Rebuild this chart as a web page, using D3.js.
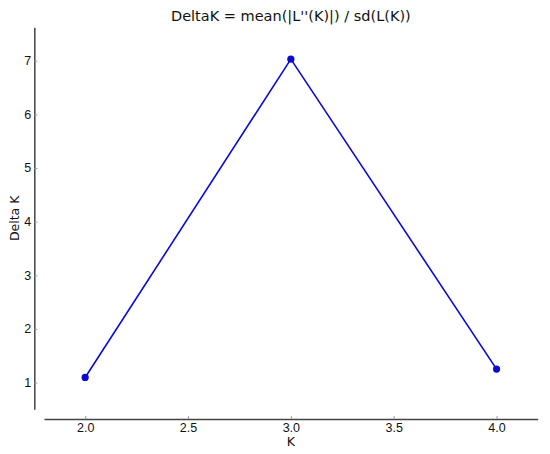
<!DOCTYPE html>
<html>
<head>
<meta charset="utf-8">
<script src="https://d3js.org/d3.v7.min.js"></script>
<style>
	body { margin: 0; background: #fff; }
	svg { display: block; font-family: "DejaVu Sans", sans-serif; }
</style>
</head>
<body>
<svg width="550" height="454"></svg>
<script>
var kValues = [2, 3, 4];
var deltaK = [1.094, 7.03, 1.25];
var xTicks = [2.0, 2.5, 3.0, 3.5, 4.0];
var yTicks = [1, 2, 3, 4, 5, 6, 7];

var svg = d3.select("svg");
var color = "#0a0ad2";

// plot box, spines are offset outward like the original
var plotLeft = 44, plotRight = 537.7, plotTop = 27.3, plotBottom = 409.3;
var ySpineX = 34.3, xSpineY = 419;

// matplotlib style 10% margins around the data
var xPad = (d3.max(kValues) - d3.min(kValues)) * 0.1;
var yPad = (d3.max(deltaK) - d3.min(deltaK)) * 0.1;

var x = d3.scaleLinear()
	.domain([d3.min(kValues) - xPad, d3.max(kValues) + xPad])
	.range([plotLeft, plotRight]);

var y = d3.scaleLinear()
	.domain([d3.min(deltaK) - yPad, d3.max(deltaK) + yPad])
	.range([plotBottom, plotTop]);

var points = kValues.map(function (k, i) { return {k: k, v: deltaK[i]}; });

// x axis
var xAxis = svg.append("g")
	.attr("transform", "translate(0," + xSpineY + ")")
	.call(d3.axisBottom(x).tickValues(xTicks).tickFormat(d3.format(".1f")).tickSizeInner(-3).tickSizeOuter(0).tickPadding(4));

xAxis.select(".domain").attr("stroke", "#444").attr("stroke-width", 1.5);
xAxis.selectAll(".tick line").attr("stroke", "#999");
xAxis.selectAll(".tick text").attr("font-size", 12.5).attr("fill", "#111");

// y axis
var yAxis = svg.append("g")
	.attr("transform", "translate(" + ySpineX + ",0)")
	.call(d3.axisLeft(y).tickValues(yTicks).tickFormat(d3.format("d")).tickSizeInner(-3).tickSizeOuter(0).tickPadding(3));

yAxis.select(".domain").attr("stroke", "#444").attr("stroke-width", 1.5);
yAxis.selectAll(".tick line").attr("stroke", "#999");
yAxis.selectAll(".tick text").attr("font-size", 12.5).attr("fill", "#111");

// line and markers
var line = d3.line()
	.x(function (d) { return x(d.k); })
	.y(function (d) { return y(d.v); });

svg.append("path")
	.datum(points)
	.attr("d", line)
	.attr("fill", "none")
	.attr("stroke", color)
	.attr("stroke-width", 1.6);

svg.append("g").selectAll("circle")
	.data(points)
	.enter().append("circle")
	.attr("cx", function (d) { return x(d.k); })
	.attr("cy", function (d) { return y(d.v); })
	.attr("r", 3.6)
	.attr("fill", color);

// labels
svg.append("text")
	.attr("x", (plotLeft + plotRight) / 2)
	.attr("y", 21)
	.attr("text-anchor", "middle")
	.attr("font-size", 14.5)
	.attr("fill", "#111")
	.text("DeltaK = mean(|L''(K)|) / sd(L(K))");

svg.append("text")
	.attr("x", (plotLeft + plotRight) / 2)
	.attr("y", 446)
	.attr("text-anchor", "middle")
	.attr("font-size", 12.5)
	.attr("fill", "#111")
	.text("K");

svg.append("text")
	.attr("transform", "translate(19," + (plotTop + plotBottom) / 2 + ") rotate(-90)")
	.attr("text-anchor", "middle")
	.attr("font-size", 12.5)
	.attr("fill", "#111")
	.text("Delta K");
</script>
</body>
</html>
